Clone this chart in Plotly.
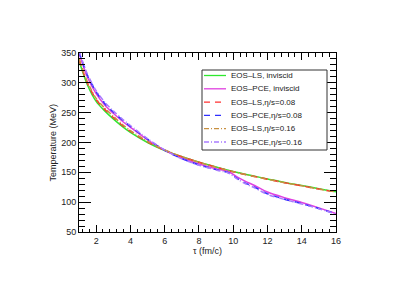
import plotly.graph_objects as go

# ---- data ----
tau_ls = [1, 1.5, 2, 2.5, 3, 3.5, 4, 5, 6, 7, 8, 9, 10, 11, 12, 13, 14, 15, 16]
T_ls_ideal = [337, 296, 269, 253, 239.5, 227.5, 217, 200, 186.5, 176, 167, 159, 151.5, 145, 139, 133, 128, 122.5, 117.5]
T_ls_008 = [339, 299, 272, 255.5, 242, 229.5, 219, 201, 187, 176, 167, 158.5, 151, 144.5, 138.5, 132.5, 127.5, 122, 117]
T_ls_016 = [341, 301, 274, 257.5, 244, 231, 220, 202, 187.5, 176.5, 167, 158.5, 151, 144.5, 138.5, 132.5, 127.5, 122, 117]

tau_pce = [1, 1.5, 2, 2.5, 3, 3.5, 4, 5, 6, 7, 8, 9, 9.75, 10.25, 10.75, 11.25, 12, 13, 14, 15, 16]
T_pce_ideal = [350, 309, 282, 263, 249, 236.5, 225.5, 204.5, 187, 174, 164, 156, 151, 142, 134.5, 128, 117, 107.5, 99.5, 90.5, 81]
T_pce_008 = [352, 312, 285, 265.5, 251, 238.5, 227, 205.5, 187, 173, 162.5, 154.5, 149, 139.5, 131.5, 125, 114, 105, 97.5, 89.5, 80.5]
T_pce_016 = [354, 314, 287, 267.5, 253, 240, 228.5, 206.5, 187.5, 172.5, 162, 154, 148.5, 138.5, 130.5, 124, 113, 104.5, 97, 89, 80]

series_names = ["EOS\u2013LS, inviscid", "EOS\u2013PCE, inviscid", "EOS\u2013LS,\u03b7/s=0.08",
                "EOS\u2013PCE,\u03b7/s=0.08", "EOS\u2013LS,\u03b7/s=0.16", "EOS\u2013PCE,\u03b7/s=0.16"]
series_x = [tau_ls, tau_pce, tau_ls, tau_pce, tau_ls, tau_pce]
series_y = [T_ls_ideal, T_pce_ideal, T_ls_008, T_pce_008, T_ls_016, T_pce_016]
series_colors = ["#2ee82e", "#e040e0", "#ff3030", "#3030ff", "#c89040", "#a97cff"]
series_dash = ["solid", "solid", "6px,5px", "6px,5px", "5px,2px,1px,2px", "5px,2px,1px,2px"]

x_ticks = [2, 4, 6, 8, 10, 12, 14, 16]
y_ticks = [50, 100, 150, 200, 250, 300, 350]

FONT = "Liberation Sans, Arial, sans-serif"

fig = go.Figure()
for name, xs, ys, c, d in zip(series_names, series_x, series_y, series_colors, series_dash):
    fig.add_trace(go.Scatter(x=xs, y=ys, mode="lines", name=name,
                             line=dict(color=c, width=1.5, dash=d, shape="spline", smoothing=0.8),
                             showlegend=False))

W, H = 415, 285
L, R, T, B = 79, 79, 53, 53
pw, ph = W - L - R, H - T - B

def xp(px):
    return (px - L) / pw

def yp(py):
    return (H - B - py) / ph

# manual legend (ROOT style compact box)
shapes = [dict(type="rect", xref="paper", yref="paper", x0=xp(202), x1=xp(327), y0=yp(150), y1=yp(70),
               line=dict(color="#333333", width=1), fillcolor="white", layer="above")]
annotations = []
for i, (name, c, d) in enumerate(zip(series_names, series_colors, series_dash)):
    py = 75.5 + 13.3 * i
    shapes.append(dict(type="line", xref="paper", yref="paper", x0=xp(204), x1=xp(226), y0=yp(py), y1=yp(py),
                       line=dict(color=c, width=1.3, dash=d), layer="above"))
    annotations.append(dict(text=name, xref="paper", yref="paper", x=xp(229), y=yp(py), xanchor="left",
                            yanchor="middle", showarrow=False, font=dict(family=FONT, size=8, color="#222")))

annotations.append(dict(text="\u03c4 (fm/c)", xref="paper", yref="paper", x=0.5, y=yp(250.5), xanchor="center",
                        yanchor="middle", showarrow=False, font=dict(family=FONT, size=9, color="#222")))
annotations.append(dict(text="Temperature (MeV)", xref="paper", yref="paper", x=xp(52), y=0.5, xanchor="center",
                        yanchor="middle", textangle=-90, showarrow=False, font=dict(family=FONT, size=9, color="#222")))

fig.update_layout(
    width=W, height=H,
    margin=dict(l=L, r=R, t=T, b=B),
    paper_bgcolor="white", plot_bgcolor="white",
    shapes=shapes, annotations=annotations,
    font=dict(family=FONT, size=9, color="#222"),
    xaxis=dict(range=[1, 16], tickvals=x_ticks, ticktext=[str(v) for v in x_ticks],
               showgrid=False, zeroline=False, showline=True, linecolor="black", linewidth=1,
               mirror="allticks", ticks="inside", ticklen=7, tickcolor="black", tickwidth=1,
               minor=dict(dtick=0.4, tick0=0, ticks="inside", ticklen=3.5, tickcolor="black", tickwidth=1, showgrid=False),
               tickfont=dict(family=FONT, size=9, color="#222")),
    yaxis=dict(range=[50, 350], tickvals=y_ticks, ticktext=[str(v) for v in y_ticks],
               showgrid=False, zeroline=False, showline=True, linecolor="black", linewidth=1,
               mirror="allticks", ticks="inside", ticklen=12, tickcolor="black", tickwidth=1,
               minor=dict(dtick=10, tick0=0, ticks="inside", ticklen=6, tickcolor="black", tickwidth=1, showgrid=False),
               tickfont=dict(family=FONT, size=9, color="#222")),
)

fig.write_html("out.html", config={"displayModeBar": False},
               post_script="document.body.style.margin='0';document.body.style.overflow='hidden';")
